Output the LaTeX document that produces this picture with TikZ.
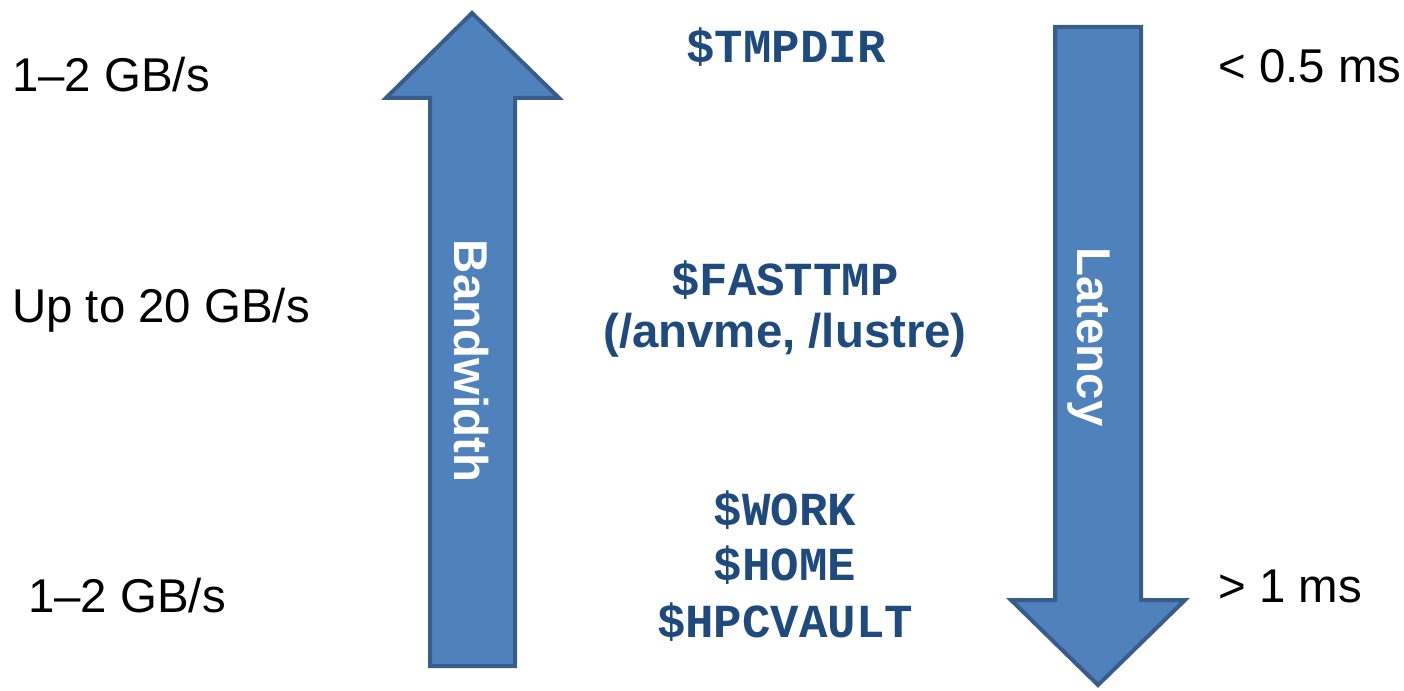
\documentclass[tikz,border=0pt]{standalone}
\usepackage{fontspec}
\setmainfont{Liberation Sans}
\setmonofont{Liberation Mono}
\usepackage{tikz}

\definecolor{arrowfill}{HTML}{4F81BD}
\definecolor{arrowline}{HTML}{385D8A}
\definecolor{dirblue}{HTML}{1F4A7E}

\begin{document}
\begin{tikzpicture}[x=1pt,y=-1pt,
    bigarrow/.style={fill=arrowfill,draw=arrowline,line width=4pt,line join=miter},
    rate/.style={anchor=base west,inner sep=0pt,font=\fontsize{47.4}{55}\selectfont},
    dirname/.style={anchor=base,inner sep=0pt,text=dirblue,font=\fontsize{47.4}{55}\selectfont\ttfamily\bfseries},
    arrowlabel/.style={inner sep=0pt,rotate=-90,text=white,font=\fontsize{47.4}{55}\selectfont\bfseries}]
\useasboundingbox (0,0) rectangle (1404,690);

% bandwidth arrow
\draw[bigarrow] (472,13) -- (559,98) -- (515,98) -- (515,666) -- (430,666)
    -- (430,98) -- (386,98) -- cycle;
\node[arrowlabel] (bandwidth) at (471,361) {Bandwidth};

% latency arrow
\draw[bigarrow] (1055,27) -- (1141,27) -- (1141,600) -- (1185,600) -- (1098,685)
    -- (1011,600) -- (1055,600) -- cycle;
\node[arrowlabel] (latency) at (1089,337) {Latency};

% rates on the left, latencies on the right
\node[rate] (bwtop) at (12,92) {1–2 GB/s};
\node[rate] (bwmid) at (12,322) {Up to 20 GB/s};
\node[rate] (bwlow) at (28,612) {1–2 GB/s};
\node[rate] (lattop) at (1218,83) {< 0.5 ms};
\node[rate] (latlow) at (1218,602) {> 1 ms};

% file systems
\node[dirname] (tmpdir) at (786,63) {\$TMPDIR};
\node[dirname] (fasttmp) at (785,295) {\$FASTTMP};
\node[dirname,font=\fontsize{47.4}{55}\selectfont\bfseries] (fastpath) at (785,347) {(/anvme, /lustre)};
\foreach \dname/\ybase in {work/525,home/580,hpcvault/637}
  \node[dirname] (\dname) at (785,\ybase) {\$\MakeUppercase{\dname}};
\end{tikzpicture}
\end{document}
